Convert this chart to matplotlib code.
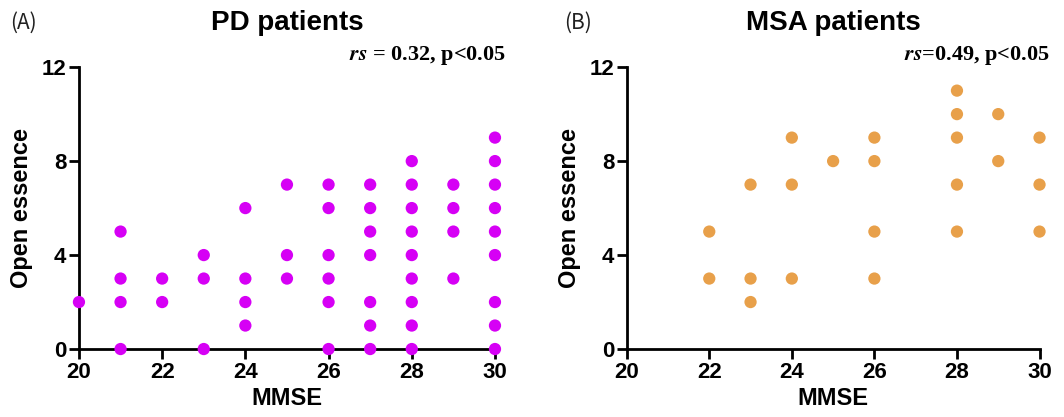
import matplotlib
matplotlib.use('Agg')
import matplotlib.pyplot as plt

plt.rcParams['font.family'] = ['Liberation Sans', 'DejaVu Sans']

# PD patients: MMSE vs open essence
pd_mmse = [20,
           21, 21, 21, 21,
           22, 22,
           23, 23, 23,
           24, 24, 24, 24,
           25, 25, 25,
           26, 26, 26, 26, 26, 26,
           27, 27, 27, 27, 27, 27, 27,
           28, 28, 28, 28, 28, 28, 28, 28, 28,
           29, 29, 29, 29,
           30, 30, 30, 30, 30, 30, 30, 30, 30]
pd_open = [2,
           0, 2, 3, 5,
           2, 3,
           0, 3, 4,
           1, 2, 3, 6,
           3, 4, 7,
           0, 2, 3, 4, 6, 7,
           0, 1, 2, 4, 5, 6, 7,
           0, 1, 2, 3, 4, 5, 6, 7, 8,
           3, 5, 6, 7,
           0, 1, 2, 4, 5, 6, 7, 8, 9]

# MSA patients
msa_mmse = [22, 22,
            23, 23, 23,
            24, 24, 24,
            25,
            26, 26, 26, 26,
            28, 28, 28, 28, 28,
            29, 29,
            30, 30, 30]
msa_open = [3, 5,
            2, 3, 7,
            3, 7, 9,
            8,
            3, 5, 8, 9,
            5, 7, 9, 10, 11,
            8, 10,
            5, 7, 9]

x_ticks = [20, 22, 24, 26, 28, 30]
y_ticks = [0, 4, 8, 12]

fig = plt.figure(figsize=(10.64, 4.17), dpi=100)
ax1 = fig.add_axes([0.0742, 0.163, 0.391, 0.676])
ax2 = fig.add_axes([0.589, 0.163, 0.388, 0.676])

panels = [
    (ax1, pd_mmse, pd_open, '#D600F5', 'PD patients', '(A)', r'$\mathbfit{rs}$ = 0.32, p<0.05', 0.0094),
    (ax2, msa_mmse, msa_open, '#E8A04A', 'MSA patients', '(B)', r'$\mathbfit{rs}$=0.49, p<0.05', 0.5300),
]

for ax, xs, ys, col, title, tag, stat, tagx in panels:
    ax.scatter(xs, ys, s=78, color=col, edgecolors='none', clip_on=False, zorder=3)
    ax.set_xlim(20, 30)
    ax.set_ylim(0, 12)
    ax.set_xticks(x_ticks)
    ax.set_yticks(y_ticks)
    for s in ['top', 'right']:
        ax.spines[s].set_visible(False)
    for s in ['left', 'bottom']:
        ax.spines[s].set_linewidth(2)
    ax.tick_params(width=2, length=7, labelsize=16, pad=2)
    for lb in ax.get_xticklabels() + ax.get_yticklabels():
        lb.set_fontweight('bold')
    ax.set_xlabel('MMSE', fontsize=17, fontweight='bold', labelpad=3)
    ax.set_ylabel('Open essence', fontsize=17, fontweight='bold', labelpad=6)
    ax.set_title(title, fontsize=20, fontweight='bold', pad=27)
    ax.text(1.025, 1.025, stat, transform=ax.transAxes, ha='right', va='baseline',
            fontsize=16, fontweight='bold', family='Liberation Serif',
            math_fontfamily='stix')
    fig.text(tagx, 0.945, tag, fontsize=15, va='center', ha='left',
             family=['Noto Sans CJK SC', 'DejaVu Sans'], color='#222222')

fig.savefig('out.png', dpi=100)
